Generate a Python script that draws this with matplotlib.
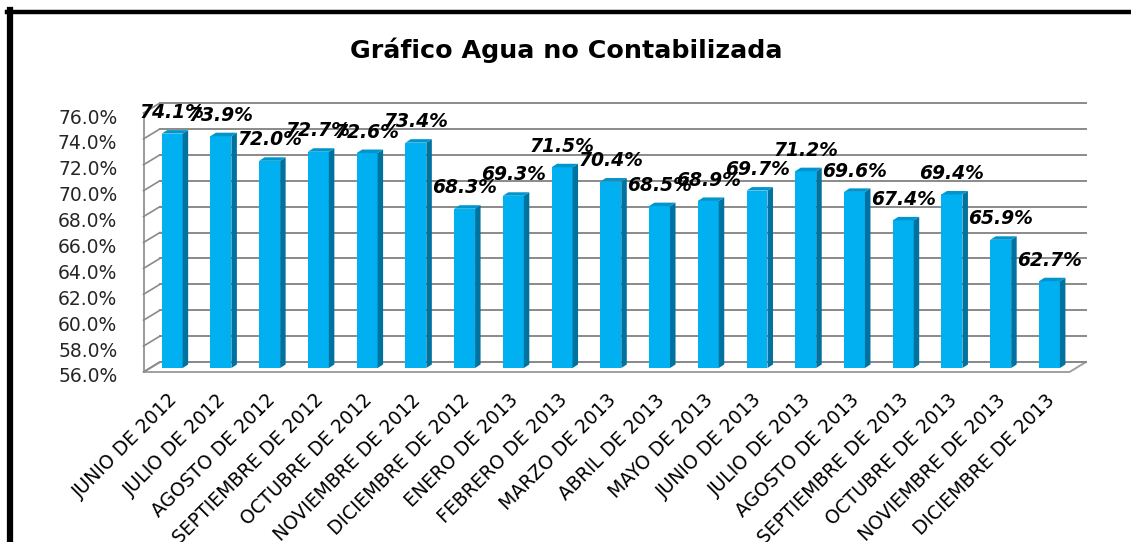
import numpy as np
import matplotlib
matplotlib.use('Agg')
import matplotlib.pyplot as plt
from matplotlib.lines import Line2D
from matplotlib.transforms import ScaledTranslation

meses = ['JUNIO DE 2012', 'JULIO DE 2012', 'AGOSTO DE 2012', 'SEPTIEMBRE DE 2012',
         'OCTUBRE DE 2012', 'NOVIEMBRE DE 2012', 'DICIEMBRE DE 2012', 'ENERO DE 2013',
         'FEBRERO DE 2013', 'MARZO DE 2013', 'ABRIL DE 2013', 'MAYO DE 2013',
         'JUNIO DE 2013', 'JULIO DE 2013', 'AGOSTO DE 2013', 'SEPTIEMBRE DE 2013',
         'OCTUBRE DE 2013', 'NOVIEMBRE DE 2013', 'DICIEMBRE DE 2013']
agua_nc = [74.1, 73.9, 72.0, 72.7, 72.6, 73.4, 68.3, 69.3, 71.5, 70.4,
           68.5, 68.9, 69.7, 71.2, 69.6, 67.4, 69.4, 65.9, 62.7]
y_ticks = [56, 58, 60, 62, 64, 66, 68, 70, 72, 74, 76]
titulo = 'Gráfico Agua no Contabilizada'

W, H = 1131, 542
fig = plt.figure(figsize=(W / 100, H / 100), dpi=100)
# axes = plane where the bars stand (px)
ax = fig.add_axes([150 / W, (H - 368) / H, 926 / W, 259 / H])
ax.set_xlim(-0.5, 18.5)
ax.set_ylim(56, 76)
for s in ax.spines.values():
    s.set_visible(False)

px_x = 926 / 19.0     # px per category
px_y = 259 / 20.0     # px per percent
# depth offsets in data units
back = (10 / px_x, 6 / px_y)
front = (-6.5 / px_x, -4 / px_y)
bar_d = (5.5 / px_x, 3.5 / px_y)

grid_c = '#8a8a8a'
x0, x1 = -0.5, 18.5
# floor
fx = [x0 + front[0], x1 + front[0], x1 + back[0], x0 + back[0]]
fy = [56 + front[1], 56 + front[1], 56 + back[1], 56 + back[1]]
ax.fill(fx, fy, facecolor='white', edgecolor='#a0a0a0', lw=1.4, zorder=1, clip_on=False)
# back wall + left wall gridlines
for t in y_ticks:
    ax.plot([x0 + back[0], x1 + back[0]], [t + back[1]] * 2, color=grid_c, lw=1.4,
            zorder=1, clip_on=False)
    ax.plot([x0 + front[0], x0 + back[0]], [t + front[1], t + back[1]], color=grid_c,
            lw=1.2, zorder=1, clip_on=False)
ax.plot([x0 + front[0]] * 2, [56 + front[1], 76 + front[1]], color=grid_c, lw=1.2,
        zorder=1, clip_on=False)

# bars
x = np.arange(len(agua_nc))
bw = 0.43
xl = x - 0.26
vals = np.array(agua_nc)
ax.bar(xl, vals - 56, bottom=56, width=bw, align='edge', color='#00b0f0', zorder=3,
       clip_on=False)
for a, v in zip(xl, vals):
    b = a + bw
    ax.fill([b, b + bar_d[0], b + bar_d[0], b], [56, 56 + bar_d[1], v + bar_d[1], v],
            color='#00729f', zorder=3, clip_on=False, lw=0)
    ax.fill([a, a + bar_d[0], b + bar_d[0], b], [v, v + bar_d[1], v + bar_d[1], v],
            color='#0095cc', zorder=3, clip_on=False, lw=0)
    ax.annotate('%.1f%%' % v, (a + bw / 2, v), xytext=(0, 15), textcoords='offset points',
                ha='center', va='center', fontsize=13.5, fontweight='bold',
                fontstyle='italic', color='black', zorder=5)

# ticks
ax.set_yticks(y_ticks)
ax.set_yticklabels(['%.1f%%' % t for t in y_ticks], fontsize=13.5, color='#262626')
ax.tick_params(axis='y', length=0, pad=23.5)
for lab in ax.get_yticklabels():
    lab.set_transform(lab.get_transform() + ScaledTranslation(0, -7 / 100, fig.dpi_scale_trans))

ax.set_xticks(x)
ax.set_xticklabels(meses, fontsize=13.5, color='black')
ax.tick_params(axis='x', length=0, pad=21)
plt.setp(ax.get_xticklabels(), rotation=45, ha='right', va='center', rotation_mode='anchor')

fig.text(566 / W, (H - 58) / H, titulo, ha='center', va='baseline', fontsize=18.3,
         fontweight='bold', color='black')

# black frame of the screenshot
fig.add_artist(Line2D([9.5 / W, 9.5 / W], [0, (H - 10) / H], color='black', lw=4.5,
                      transform=fig.transFigure))
fig.add_artist(Line2D([7 / W, 1], [(H - 11.5) / H] * 2, color='black', lw=3.2,
                      transform=fig.transFigure))

fig.savefig('out.png', dpi=100)
